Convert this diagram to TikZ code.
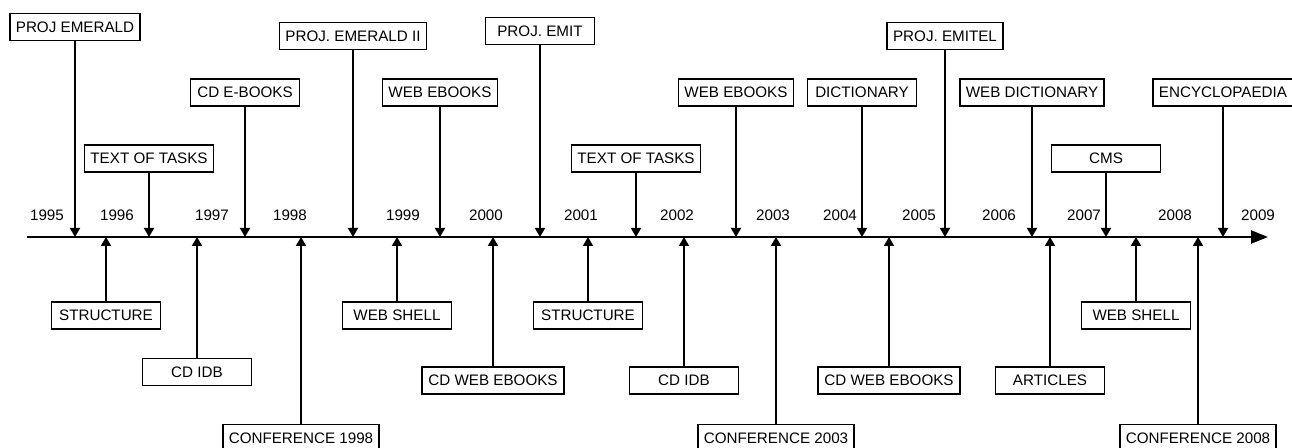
\documentclass[tikz,border=0pt]{standalone}
\usepackage{fontspec}
\setmainfont{Liberation Sans}
\usetikzlibrary{arrows.meta}

\begin{document}
\begin{tikzpicture}[x=0.5pt,y=-0.5pt,
		event/.style={draw, line width=0.9pt, inner xsep=3pt, inner ysep=0pt, minimum width=54.5pt, minimum height=13.5pt, font=\fontsize{7.6}{9}\selectfont},
		year/.style={font=\fontsize{7.6}{9}\selectfont},
		link/.style={-{Triangle[length=4.5pt,width=5pt]}, line width=0.9pt}]
	\useasboundingbox (0,0) rectangle (1292,448);

	\coordinate (start) at (27,237);
	\coordinate (end) at (1268,237);
	\draw[line width=1.2pt, -{Triangle[length=8.5pt,width=6.5pt]}] (start) -- (end); % asse

	% anni
	\node[year] (y1995) at (47,215) {1995};
	\node[year] (y1996) at (117,215) {1996};
	\node[year] (y1997) at (212,215) {1997};
	\node[year] (y1998) at (290,215) {1998};
	\node[year] (y1999) at (403,215) {1999};
	\node[year] (y2000) at (486,215) {2000};
	\node[year] (y2001) at (581,215) {2001};
	\node[year] (y2002) at (677,215) {2002};
	\node[year] (y2003) at (773,215) {2003};
	\node[year] (y2004) at (840,215) {2004};
	\node[year] (y2005) at (919,215) {2005};
	\node[year] (y2006) at (999,215) {2006};
	\node[year] (y2007) at (1084,215) {2007};
	\node[year] (y2008) at (1175,215) {2008};
	\node[year] (y2009) at (1258,215) {2009};

	% sopra l'asse
	\node[event] (emerald) at (75,27) {PROJ EMERALD};
	\node[event] (tasksA) at (149,158.5) {TEXT OF TASKS};
	\node[event] (cdbooks) at (245,92.5) {CD E-BOOKS};
	\node[event] (emeraldii) at (353,36) {PROJ. EMERALD II};
	\node[event] (webbooksA) at (440,92.5) {WEB EBOOKS};
	\node[event] (emit) at (540,31) {PROJ. EMIT};
	\node[event] (tasksB) at (636,158.5) {TEXT OF TASKS};
	\node[event] (webbooksB) at (736,92.5) {WEB EBOOKS};
	\node[event] (dict) at (862,92.5) {DICTIONARY};
	\node[event] (emitel) at (945,36) {PROJ. EMITEL};
	\node[event] (webdict) at (1032,92.5) {WEB DICTIONARY};
	\node[event] (cms) at (1106,158.5) {CMS};
	\node[event] (encyc) at (1223,92.5) {ENCYCLOPAEDIA};

	\draw[link] (emerald) -- (emerald |- start);
	\draw[link] (tasksA) -- (tasksA |- start);
	\draw[link] (cdbooks) -- (cdbooks |- start);
	\draw[link] (emeraldii) -- (emeraldii |- start);
	\draw[link] (webbooksA) -- (webbooksA |- start);
	\draw[link] (emit) -- (emit |- start);
	\draw[link] (tasksB) -- (tasksB |- start);
	\draw[link] (webbooksB) -- (webbooksB |- start);
	\draw[link] (dict) -- (dict |- start);
	\draw[link] (emitel) -- (emitel |- start);
	\draw[link] (webdict) -- (webdict |- start);
	\draw[link] (cms) -- (cms |- start);
	\draw[link] (encyc) -- (encyc |- start);

	% sotto l'asse
	\node[event] (structA) at (106,315.5) {STRUCTURE};
	\node[event] (cdidbA) at (197,372) {CD IDB};
	\node[event] (conf98) at (301,438) {CONFERENCE 1998};
	\node[event] (shellA) at (397,315.5) {WEB SHELL};
	\node[event] (cdwebA) at (493,380.5) {CD WEB EBOOKS};
	\node[event] (structB) at (588,315.5) {STRUCTURE};
	\node[event] (cdidbB) at (684,380.5) {CD IDB};
	\node[event] (conf03) at (776,438) {CONFERENCE 2003};
	\node[event] (cdwebB) at (889,380.5) {CD WEB EBOOKS};
	\node[event] (articles) at (1050,380.5) {ARTICLES};
	\node[event] (shellB) at (1136,315.5) {WEB SHELL};
	\node[event] (conf08) at (1198,438) {CONFERENCE 2008};

	\draw[link] (structA) -- (structA |- start);
	\draw[link] (cdidbA) -- (cdidbA |- start);
	\draw[link] (conf98) -- (conf98 |- start);
	\draw[link] (shellA) -- (shellA |- start);
	\draw[link] (cdwebA) -- (cdwebA |- start);
	\draw[link] (structB) -- (structB |- start);
	\draw[link] (cdidbB) -- (cdidbB |- start);
	\draw[link] (conf03) -- (conf03 |- start);
	\draw[link] (cdwebB) -- (cdwebB |- start);
	\draw[link] (articles) -- (articles |- start);
	\draw[link] (shellB) -- (shellB |- start);
	\draw[link] (conf08) -- (conf08 |- start);
\end{tikzpicture}
\end{document}
